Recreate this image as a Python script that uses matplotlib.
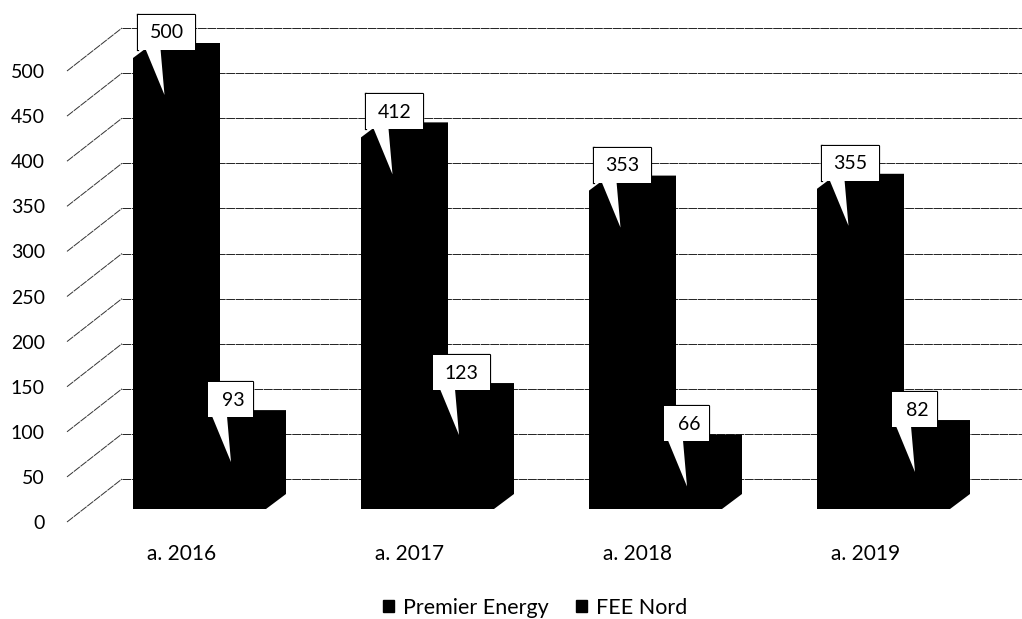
#!/usr/bin/env python3
"""
Pseudo-3D clustered columns, Premier Energy vs FEE Nord
"""

import matplotlib
matplotlib.use('Agg')
import matplotlib.pyplot as plt
from matplotlib.patches import Patch

plt.rcParams['font.family'] = ['Lato', 'DejaVu Sans']

years = ['a. 2016', 'a. 2017', 'a. 2018', 'a. 2019']
premier_energy = [500, 412, 353, 355]
fee_nord = [93, 123, 66, 82]
y_ticks = [0, 50, 100, 150, 200, 250, 300, 350, 400, 450, 500]

W, H = 1022, 619
PX_PER_X = 228.0  # pixels between two groups
PX_PER_V = 0.902  # pixels per unit of value
X0_PX = 200.0  # pixel of group 0 centre
Y0_PX = 522.0  # pixel of value 0 on the front of the wall
LEFT_PX = 67.0


def dx(px):
    return px / PX_PER_X


def dv(px):
    return px / PX_PER_V


fig = plt.figure(figsize=(W / 100, H / 100), dpi=100)
ax = fig.add_axes([LEFT_PX / W, 1 - Y0_PX / H, 1 - LEFT_PX / W, Y0_PX / H])
ax.set_xlim(dx(LEFT_PX - X0_PX), dx(W - X0_PX))
ax.set_ylim(0, dv(Y0_PX))
for s in ax.spines.values():
    s.set_visible(False)

# wall and floor lines
wall_x, wall_dy = dx(55), dv(43)
for v in y_ticks:
    ax.plot([dx(LEFT_PX - X0_PX), dx(LEFT_PX - X0_PX) + wall_x],
            [v, v + wall_dy],
            color='#333333', lw=0.7, ls=(0, (8, 0.8)), zorder=1, clip_on=False)
    ax.plot([dx(LEFT_PX - X0_PX) + wall_x, dx(W - X0_PX)],
            [v + wall_dy, v + wall_dy],
            color='#222222', lw=0.7, ls=(0, (9, 0.7)), zorder=1, clip_on=False)


def draw_bar(x_left, value, width_px):
    """Front, side and top are all black, so one outline does it"""
    w = dx(width_px)
    d, h = dx(20), dv(15)
    base = dv(13)
    xs = [x_left, x_left + w, x_left + w + d, x_left + w + d, x_left + d, x_left]
    ys = [base, base, base + h, base + value + h, base + value + h, base + value]
    ax.fill(xs, ys, color='black', lw=0, zorder=2)


def draw_callout(x_left, value, width_px):
    """White data label with a pointer running down into the bar"""
    xc = x_left + dx(width_px / 2)
    top = dv(13) + value
    half_w = 28.5 if value >= 100 else 22.5
    shift = 0 if value >= 100 else -3
    x0, x1 = xc + dx(shift - half_w), xc + dx(shift + half_w)
    box_x = [x0, x1, x1, x0, x0]
    box_y = [top + dv(8), top + dv(8), top + dv(43), top + dv(43), top + dv(8)]
    ax.plot(box_x[1:4], box_y[1:4], color='black', lw=1.6, zorder=3)
    ax.plot(box_x[3:], box_y[3:], color='black', lw=1.6, zorder=3)
    ax.fill(box_x[:4], box_y[:4], color='white', lw=0, zorder=3)
    ax.fill([xc - dx(21), xc - dx(6), xc - dx(2)],
            [top + dv(9), top + dv(9), top - dv(37)],
            color='white', lw=0, zorder=3)
    ax.text(xc, top + dv(25), str(value), ha='center', va='center',
            fontsize=14, color='black', zorder=4)


for i in range(len(years)):
    x_a = i - dx(67)
    x_b = i
    draw_bar(x_a, premier_energy[i], 67)
    draw_bar(x_b, fee_nord[i], 66)
    draw_callout(x_a, premier_energy[i], 67)
    draw_callout(x_b, fee_nord[i], 66)

ax.set_yticks(y_ticks)
ax.set_yticklabels([str(v) for v in y_ticks], fontsize=14)
ax.set_xticks([i - dx(18.5) for i in range(len(years))])
ax.set_xticklabels(years, fontsize=15)
ax.tick_params(axis='y', length=0, pad=16)
ax.tick_params(axis='x', length=0, pad=15.5)

fig.legend(handles=[Patch(color='black', label='Premier Energy'),
                    Patch(color='black', label='FEE Nord')],
           loc='center', bbox_to_anchor=(535 / W, 1 - 608 / H), ncols=2,
           frameon=False, fontsize=15.5, handlelength=0.5, handleheight=0.5,
           handletextpad=0.4, columnspacing=1.3)

plt.savefig('out.png', dpi=100)
